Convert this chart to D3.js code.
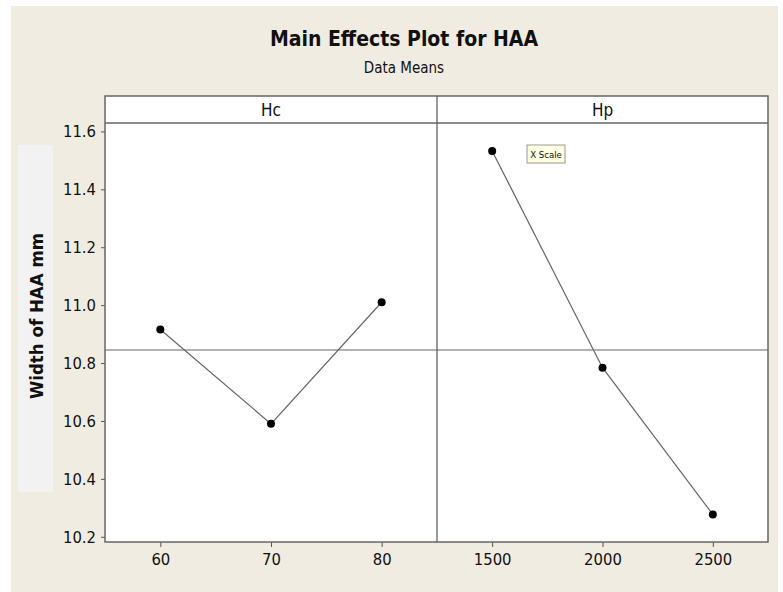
<!DOCTYPE html>
<html>
<head>
<script src="https://d3js.org/d3.v7.min.js"></script>
<style>
  body { margin: 0; background: #fff; }
  text { font-family: "DejaVu Sans Condensed", "DejaVu Sans", sans-serif; fill: #111; }
</style>
</head>
<body>
<svg width="783" height="592"></svg>
<script>
// data
const factors = ["Hc", "Hp"];
const hcLevels = [60, 70, 80];
const hcMeans = [10.916, 10.59, 11.01];
const hpLevels = [1500, 2000, 2500];
const hpMeans = [11.532, 10.784, 10.277];
const yTicks = [10.2, 10.4, 10.6, 10.8, 11.0, 11.2, 11.4, 11.6];
const grandMean = 10.845;

const svg = d3.select("svg");

// backdrop
svg.append("rect").attr("x", 11).attr("y", 6).attr("width", 767).attr("height", 586).attr("fill", "#f0ece2");

const pLeft = 105, pRight = 768, pMid = 437;
const pTop = 96, headBottom = 123, pBottom = 542;

const y = d3.scaleLinear().domain([10.182, 11.629]).range([pBottom, headBottom]);

const panels = [
  { name: factors[0], levels: hcLevels, means: hcMeans,
    x: d3.scaleLinear().domain([55, 85]).range([pLeft, pMid]) },
  { name: factors[1], levels: hpLevels, means: hpMeans,
    x: d3.scaleLinear().domain([1250, 2750]).range([pMid, pRight]) }
];

// plot area
svg.append("rect").attr("x", pLeft).attr("y", pTop).attr("width", pRight - pLeft).attr("height", pBottom - pTop)
  .attr("fill", "#fff");

// title
svg.append("text").attr("x", 404).attr("y", 46).attr("text-anchor", "middle")
  .attr("font-size", 21).attr("font-weight", "bold").text("Main Effects Plot for HAA");
svg.append("text").attr("x", 404).attr("y", 73).attr("text-anchor", "middle")
  .attr("font-size", 15).text("Data Means");

// y label box
svg.append("rect").attr("x", 18).attr("y", 145).attr("width", 35).attr("height", 347).attr("fill", "#f3f2f2");
svg.append("text").attr("transform", "translate(43,316) rotate(-90)").attr("text-anchor", "middle")
  .attr("font-size", 18.5).attr("font-weight", "bold").text("Width of HAA mm");

// y axis
const yAxis = svg.append("g").attr("transform", `translate(${pLeft},0)`)
  .call(d3.axisLeft(y).tickValues(yTicks).tickFormat(d3.format(".1f")).tickSizeOuter(0).tickSize(4).tickPadding(5));
yAxis.select(".domain").remove();
yAxis.selectAll("line").attr("stroke", "#555");
yAxis.selectAll("text").attr("font-size", 16.5).attr("font-family", null).attr("fill", "#111");

// reference line at grand mean
svg.append("line").attr("x1", pLeft).attr("x2", pRight).attr("y1", y(grandMean)).attr("y2", y(grandMean))
  .attr("stroke", "#666").attr("stroke-width", 1.2);

panels.forEach(p => {
  const ax = svg.append("g").attr("transform", `translate(0,${pBottom})`)
    .call(d3.axisBottom(p.x).tickValues(p.levels).tickFormat(d3.format("d")).tickSizeOuter(0).tickSize(5).tickPadding(6));
  ax.select(".domain").remove();
  ax.selectAll("line").attr("stroke", "#555");
  ax.selectAll("text").attr("font-size", 16.5).attr("font-family", null).attr("fill", "#111");

  const pts = p.levels.map((l, i) => [p.x(l), y(p.means[i])]);
  svg.append("path").attr("d", d3.line()(pts)).attr("fill", "none").attr("stroke", "#666").attr("stroke-width", 1.2);
  svg.selectAll(null).data(pts).enter().append("circle")
    .attr("cx", d => d[0]).attr("cy", d => d[1]).attr("r", 4).attr("fill", "#000");

  const [x0, x1] = p.x.range();
  svg.append("text").attr("x", (x0 + x1) / 2).attr("y", 116).attr("text-anchor", "middle")
    .attr("font-size", 17).text(p.name);
});

// frame and dividers
svg.append("rect").attr("x", pLeft).attr("y", pTop).attr("width", pRight - pLeft).attr("height", pBottom - pTop)
  .attr("fill", "none").attr("stroke", "#666").attr("stroke-width", 1.5);
svg.append("line").attr("x1", pLeft).attr("x2", pRight).attr("y1", headBottom).attr("y2", headBottom)
  .attr("stroke", "#666").attr("stroke-width", 1.5);
svg.append("line").attr("x1", pMid).attr("x2", pMid).attr("y1", pTop).attr("y2", pBottom)
  .attr("stroke", "#555").attr("stroke-width", 1.2);

// tooltip left on the chart
const tip = svg.append("g").attr("transform", "translate(527,145)");
tip.append("rect").attr("width", 38).attr("height", 18).attr("fill", "#ffffe1").attr("stroke", "#999");
tip.append("text").attr("x", 19).attr("y", 13).attr("text-anchor", "middle").attr("font-size", 9.5).text("X Scale");
</script>
</body>
</html>
